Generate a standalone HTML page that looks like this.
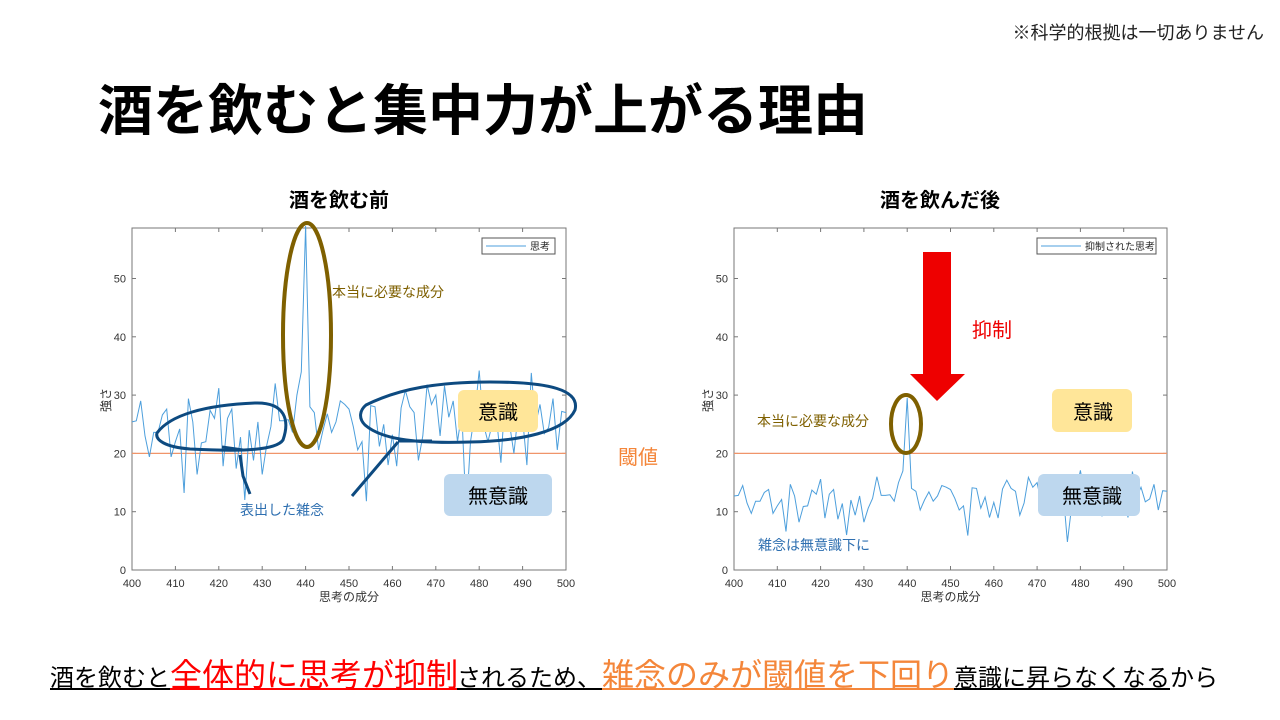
<!DOCTYPE html>
<html><head><meta charset="utf-8">
<style>
html,body{margin:0;padding:0;background:#fff;}
svg{display:block;}
text{font-family:"Liberation Sans","Noto Sans CJK JP",sans-serif;}
</style></head>
<body>
<svg id="s" width="1280" height="720" viewBox="0 0 1280 720" xmlns="http://www.w3.org/2000/svg">
<rect width="1280" height="720" fill="#fff"/>
<text x="1264" y="39" font-size="18" text-anchor="end" fill="#222">※科学的根拠は一切ありません</text>
<text x="98" y="130" font-size="55" font-weight="bold" fill="#000">酒を飲むと集中力が上がる理由</text>
<text x="339" y="207" font-size="20" font-weight="bold" text-anchor="middle" fill="#000">酒を飲む前</text>
<text x="940" y="207" font-size="20" font-weight="bold" text-anchor="middle" fill="#000">酒を飲んだ後</text>
<g id="charts"></g>

<!-- left annotations -->
<ellipse cx="307" cy="335" rx="24" ry="112" fill="none" stroke="#7f6000" stroke-width="4"/>
<text x="332" y="297" font-size="14" fill="#7f6000">本当に必要な成分</text>
<path d="M157,433 C170,415 205,405 255,403 C285,402 290,420 283,440 C275,452 230,451 190,449 C165,447 155,440 157,433 Z" fill="none" stroke="#0d4a80" stroke-width="3"/>
<path d="M366,405 C400,388 440,382 490,382 C550,382 580,390 575,410 C565,432 520,441 470,442 C410,444 380,438 365,425 C358,418 360,410 366,405 Z" fill="none" stroke="#0d4a80" stroke-width="3"/>
<path d="M222,447 L243,450 M240,455 L243,476 L250,494 M352,496 L398,442 M398,441 L432,441" fill="none" stroke="#0d4a80" stroke-width="3"/>
<text x="240" y="515" font-size="14" fill="#2e6fb0">表出した雑念</text>
<rect x="458" y="390" width="80" height="42" rx="6" fill="#ffe699"/>
<text x="498" y="419" font-size="20" text-anchor="middle" fill="#000">意識</text>
<rect x="444" y="474" width="108" height="42" rx="6" fill="#bdd7ee"/>
<text x="498" y="503" font-size="20" text-anchor="middle" fill="#000">無意識</text>
<text x="618" y="464" font-size="20" fill="#f4863a">閾値</text>

<!-- right annotations -->
<polygon points="923,252 951,252 951,374 965,374 937,401 910,374 923,374" fill="#ee0000"/>
<text x="972" y="337" font-size="20" fill="#ee0000">抑制</text>
<ellipse cx="906" cy="424" rx="15" ry="29" fill="none" stroke="#7f6000" stroke-width="4"/>
<text x="757" y="426" font-size="14" fill="#7f6000">本当に必要な成分</text>
<rect x="1052" y="389" width="80" height="43" rx="6" fill="#ffe699"/>
<text x="1093" y="419" font-size="20" text-anchor="middle" fill="#000">意識</text>
<rect x="1038" y="474" width="102" height="42" rx="6" fill="#bdd7ee"/>
<text x="1092" y="503" font-size="20" text-anchor="middle" fill="#000">無意識</text>
<text x="758" y="550" font-size="14" fill="#2e6fb0">雑念は無意識下に</text>

<!-- bottom sentence -->
<text y="686" fill="#000"><tspan x="50" font-size="24">酒を飲むと</tspan><tspan x="170" font-size="32" fill="#ff0000">全体的に思考が抑制</tspan><tspan x="457" font-size="24">されるため、</tspan><tspan x="602" font-size="32" fill="#f4863a">雑念のみが閾値を下回り</tspan><tspan x="954" font-size="24">意識に昇らなくなるから</tspan></text>
<line x1="50" y1="689" x2="170" y2="689" stroke="#000" stroke-width="2"/>
<line x1="170" y1="689" x2="457" y2="689" stroke="#ff0000" stroke-width="2"/>
<line x1="457" y1="689" x2="602" y2="689" stroke="#000" stroke-width="2"/>
<line x1="602" y1="689" x2="954" y2="689" stroke="#f4863a" stroke-width="2"/>
<line x1="954" y1="689" x2="1170" y2="689" stroke="#000" stroke-width="2"/>
</svg>
<script>
var R=[12.7,12.8,14.5,11.5,9.7,11.8,11.8,13.3,13.8,9.7,
11,12.1,6.6,14.7,12.7,8.2,10.9,11,13.7,13,
15.6,8.9,13,13.8,8.7,11.4,6,12,9.4,12.7,
8.2,10.6,12.3,16,12.8,12.8,12.9,11.8,15,17,
29.5,14,13.5,10.3,12,13.4,11.8,12.7,14.5,14.2,
13.8,12.3,10.3,11,5.9,14.1,14,10.6,12.5,9,
11.6,8.9,13.9,15.4,14,13.5,9.4,11.5,15.9,14.2,
15,11.5,15.8,13.1,14.5,11,13.5,4.8,11,13.5,
17.1,12.5,11,12.5,13,9.2,15,12.5,10,13.5,
13,9,16.9,12.5,14.2,11.7,12.2,14.7,10.3,13.6,13.5];
var L=R.map(function(v){return v*2;});
var NS="http://www.w3.org/2000/svg";
var g=document.getElementById('charts');
function el(t,a,txt){var e=document.createElementNS(NS,t);for(var k in a)e.setAttribute(k,a[k]);if(txt!=null)e.textContent=txt;g.appendChild(e);return e;}
function chart(x0,x1,data,legend,lw){
 var y0=570,yt=228,sy=5.83,sx=(x1-x0)/100;
 el('rect',{x:x0,y:yt,width:x1-x0,height:y0-yt,fill:'none',stroke:'#777','stroke-width':1});
 for(var i=0;i<=10;i++){var x=x0+i*10*sx;
  el('line',{x1:x,y1:y0,x2:x,y2:y0-4,stroke:'#777'});
  el('line',{x1:x,y1:yt,x2:x,y2:yt+4,stroke:'#777'});
  el('text',{x:x,y:587,'font-size':11,'text-anchor':'middle',fill:'#333'},String(400+i*10));}
 for(var j=0;j<=5;j++){var y=y0-j*10*sy;
  el('line',{x1:x0,y1:y,x2:x0+4,y2:y,stroke:'#777'});
  el('line',{x1:x1,y1:y,x2:x1-4,y2:y,stroke:'#777'});
  el('text',{x:x0-6,y:y+4,'font-size':11,'text-anchor':'end',fill:'#333'},String(j*10));}
 el('line',{x1:x0,y1:y0-20*sy,x2:x1,y2:y0-20*sy,stroke:'#f0956a','stroke-width':1.3});
 var p=data.map(function(v,i){return (x0+i*sx).toFixed(1)+','+(y0-v*sy).toFixed(1);}).join(' ');
 el('polyline',{points:p,fill:'none',stroke:'#4d9fdc','stroke-width':1});
 el('text',{x:(x0+x1)/2,y:601,'font-size':12,'text-anchor':'middle',fill:'#333'},'思考の成分');
 el('text',{x:0,y:0,'font-size':12,'text-anchor':'middle',fill:'#333',transform:'translate('+(x0-22)+',400) rotate(-90)'},'強さ');
 var lx=x1-11-lw;
 el('rect',{x:lx,y:238,width:lw,height:16,fill:'#fff',stroke:'#555'});
 el('line',{x1:lx+4,y1:246,x2:lx+44,y2:246,stroke:'#4d9fdc'});
 el('text',{x:lx+48,y:250,'font-size':10,fill:'#222'},legend);
}
chart(132,566,L,'思考',73);
chart(734,1167,R,'抑制された思考',119);
</script>
</body></html>
